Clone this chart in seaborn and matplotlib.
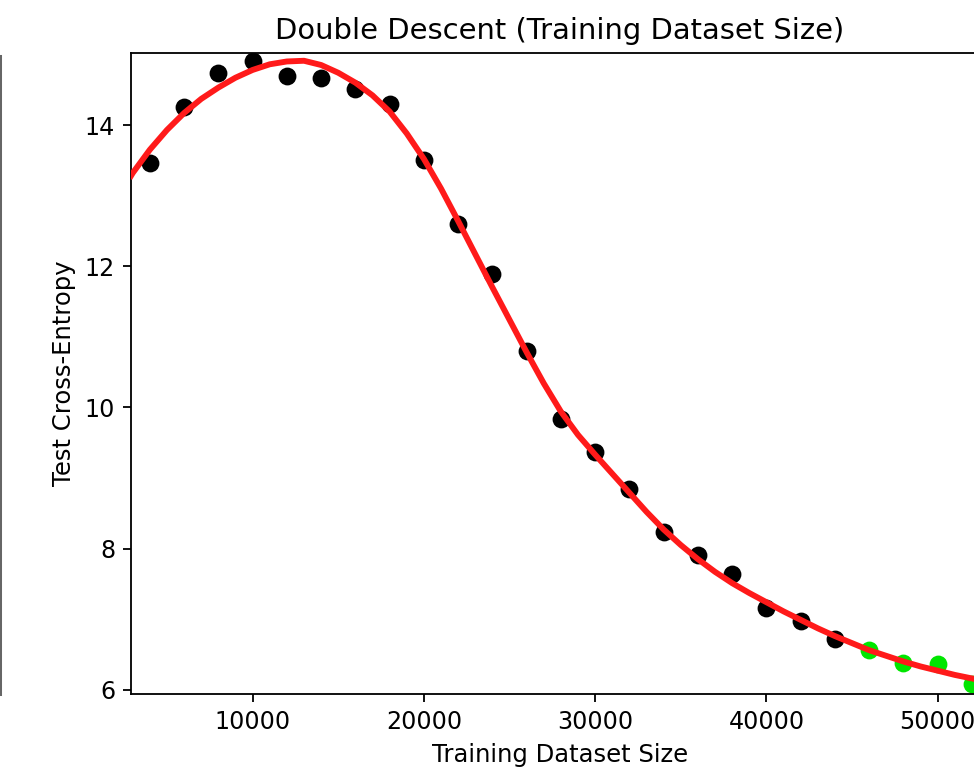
import numpy as np
import pandas as pd
import matplotlib
matplotlib.use("Agg")
import matplotlib.pyplot as plt
from matplotlib.lines import Line2D
import seaborn as sns

# Observed test loss per training-set size
train_sizes = [4000, 6000, 8000, 10000, 12000, 14000, 16000, 18000, 20000,
               22000, 24000, 26000, 28000, 30000, 32000, 34000, 36000,
               38000, 40000, 42000, 44000]
train_loss = [13.46, 14.26, 14.74, 14.90, 14.69, 14.66, 14.51, 14.30, 13.51,
              12.60, 11.89, 10.80, 9.84, 9.37, 8.85, 8.24, 7.91,
              7.64, 7.16, 6.97, 6.72]

# Held-out sizes beyond the fitted range
extra_sizes = [46000, 48000, 50000, 52000]
extra_loss = [6.57, 6.38, 6.37, 6.08]

# Fitted trend curve
fit_sizes = [2900, 3000, 4000, 5000, 6000, 7000, 8000, 9000, 10000, 11000,
             12000, 13000, 14000, 15000, 16000, 17000, 18000, 19000, 20000,
             21000, 22000, 23000, 24000, 25000, 26000, 27000, 28000, 29000,
             30000, 31000, 32000, 33000, 34000, 35000, 36000, 37000, 38000,
             39000, 40000, 41000, 42000, 43000, 44000, 45000, 46000, 47000,
             48000, 49000, 50000, 51000, 52000, 53000]
fit_loss = [13.28, 13.32, 13.65, 13.93, 14.17, 14.37, 14.53, 14.67, 14.78,
            14.86, 14.90, 14.91, 14.85, 14.74, 14.60, 14.42, 14.19, 13.88,
            13.52, 13.10, 12.64, 12.17, 11.70, 11.24, 10.78, 10.34, 9.94,
            9.61, 9.33, 9.06, 8.79, 8.52, 8.27, 8.05, 7.85, 7.67, 7.51,
            7.37, 7.24, 7.11, 6.99, 6.87, 6.76, 6.66, 6.56, 6.48, 6.40,
            6.33, 6.27, 6.21, 6.16, 6.11]

obs = pd.DataFrame({"size": train_sizes, "loss": train_loss})
held = pd.DataFrame({"size": extra_sizes, "loss": extra_loss})
fit = pd.DataFrame({"size": fit_sizes, "loss": fit_loss})

dpi = 163
fig = plt.figure(figsize=(974 / dpi, 767 / dpi), dpi=dpi)
ax = fig.add_axes([0.1345, 0.0952, 0.881, 0.8357])

sns.scatterplot(data=obs, x="size", y="loss", color="black", s=62,
                linewidth=0, ax=ax, zorder=2)
sns.scatterplot(data=held, x="size", y="loss", color="#00e600", s=62,
                linewidth=0, ax=ax, zorder=2)
sns.lineplot(data=fit, x="size", y="loss", color="#ff1a1a", lw=2.6,
             ax=ax, zorder=3)

ax.set_xlim(2900, 53000)
ax.set_ylim(5.94, 15.02)
ax.set_xticks([10000, 20000, 30000, 40000, 50000])
ax.set_yticks([6, 8, 10, 12, 14])
ax.tick_params(labelsize=10.5)
ax.set_xlabel("Training Dataset Size", fontsize=10.7)
ax.set_ylabel("Test Cross-Entropy", fontsize=10.7)
ax.set_title("Double Descent (Training Dataset Size)", fontsize=12.8)

# edge of the neighbouring panel
fig.add_artist(Line2D([0.0012, 0.0012], [0.094, 0.927],
                      transform=fig.transFigure, color="#666666", lw=0.9))

fig.savefig("out.png", dpi=dpi)
